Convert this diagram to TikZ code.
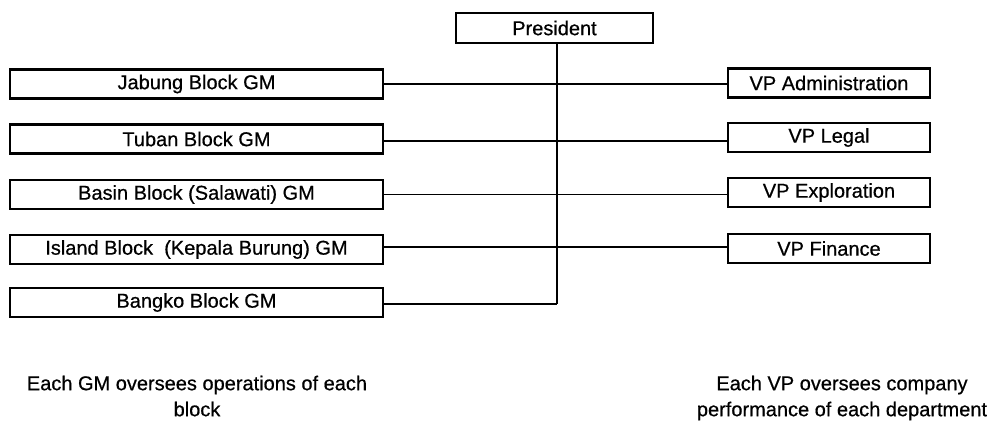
\documentclass[tikz,border=0pt]{standalone}
\usepackage{fontspec}
\setmainfont{Liberation Sans}
% slightly heavier strokes for all labels
\newfontfamily\chartfont[FakeBold=0.6]{Liberation Sans}
\begin{document}
\begin{tikzpicture}[x=1pt,y=-1pt,
  orgbox/.style={draw=black, fill=white, line width=2.2pt, inner sep=0pt,
    font=\chartfont\fontsize{20}{24}\selectfont},
  gmbox/.style={orgbox, minimum width=373pt, minimum height=29pt},
  vpbox/.style={orgbox, minimum width=202pt, minimum height=29pt},
  link/.style={draw=black, line width=1.7pt},
  note/.style={align=center, inner sep=0pt, anchor=north,
    font=\chartfont\fontsize{20}{26}\selectfont}]
\useasboundingbox (0,0) rectangle (988,421);

% top of the chart
\node[orgbox, minimum width=197pt, minimum height=30pt] (pres) at (554.5,28) {President};

% general managers (left column)
\node[gmbox] (gm1) at (196.5,84)    {Jabung Block GM};
\node[gmbox] (gm2) at (196.5,139)   {Tuban Block GM};
\node[gmbox] (gm3) at (196.5,194.5) {Basin Block (Salawati) GM};
\node[gmbox] (gm4) at (196.5,249.5) {Island Block\ \ (Kepala Burung) GM};
\node[gmbox] (gm5) at (196.5,302.5) {Bangko Block GM};

% vice presidents (right column)
\node[vpbox] (vp1) at (829,83)    {VP Administration};
\node[vpbox] (vp2) at (829,137.5) {VP Legal};
\node[vpbox] (vp3) at (829,192.5) {VP Exploration};
\node[vpbox] (vp4) at (829,248.5) {VP Finance};

% vertical spine below the president
\coordinate (spinetop) at ([xshift=2.5pt]pres.south);
\coordinate (spinebot) at (557,304);
\draw[link] (spinetop) -- (spinebot);

% horizontal links across the spine
\draw[link] (gm1.east) -- (gm1.east -| vp1.west);
\draw[link] ([yshift=-2pt]gm2.east) -- ([yshift=-2pt]gm2.east -| vp2.west);
\draw[link] (gm3.east) -- (gm3.east -| vp3.west);
\draw[link] ([yshift=2.5pt]gm4.east) -- ([yshift=2.5pt]gm4.east -| vp4.west);
\draw[link] (gm5.east |- spinebot) -- (spinebot);

% explanatory notes
\node[note] (gmnote) at (197,375.5) {Each GM oversees operations of each\\block};
\node[note] (vpnote) at (842,375.5) {Each VP oversees company\\performance of each department};
\end{tikzpicture}
\end{document}
